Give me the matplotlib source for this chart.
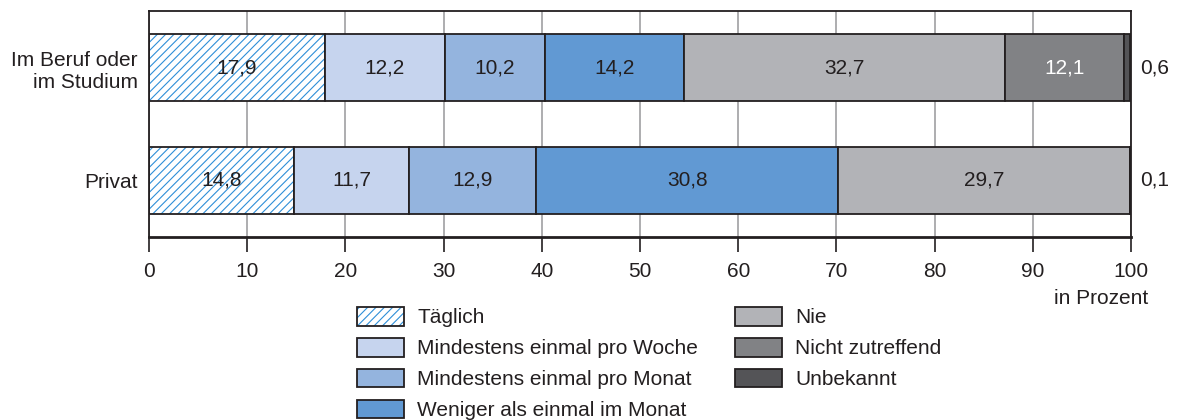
import matplotlib
matplotlib.use("Agg")
import matplotlib.pyplot as plt
from matplotlib.patches import Patch
from matplotlib.legend_handler import HandlerTuple

plt.rcParams['font.family'] = ['Liberation Sans', 'DejaVu Sans']
plt.rcParams['hatch.linewidth'] = 0.8

categories = ["Im Beruf oder\nim Studium", "Privat"]
series = ["Täglich", "Mindestens einmal pro Woche", "Mindestens einmal pro Monat",
          "Weniger als einmal im Monat", "Nie", "Nicht zutreffend", "Unbekannt"]
values = {
    "Täglich": [17.9, 14.8],
    "Mindestens einmal pro Woche": [12.2, 11.7],
    "Mindestens einmal pro Monat": [10.2, 12.9],
    "Weniger als einmal im Monat": [14.2, 30.8],
    "Nie": [32.7, 29.7],
    "Nicht zutreffend": [12.1, 0.0],
    "Unbekannt": [0.6, 0.1],
}
colors = ["white", "#c6d4ee", "#94b4de", "#6199d3", "#b2b3b7", "#818285", "#545457"]
text_colors = ["#231f20", "#231f20", "#231f20", "#231f20", "#231f20", "white", "#231f20"]
hatch_color = "#2f8fd8"
edge = "#231f20"
FS = 15

fig = plt.figure(figsize=(11.8, 4.2), dpi=100)
ax = fig.add_axes([149/1180, 183/420, 982/1180, 226/420])

ypos = list(range(len(categories)))
bar_h = 0.593
left = [0.0] * len(categories)
handles = []
for i, name in enumerate(series):
    vals = values[name]
    if i == 0:
        ax.barh(ypos, vals, left=left, height=bar_h, color="white",
                edgecolor=hatch_color, hatch="////", linewidth=0, zorder=2)
        ax.barh(ypos, vals, left=left, height=bar_h, color="none",
                edgecolor=edge, linewidth=1.3, zorder=3)
        h = (Patch(facecolor="white", edgecolor=hatch_color, hatch="////", linewidth=0),
             Patch(facecolor="none", edgecolor=edge, linewidth=1.3))
    else:
        ax.barh(ypos, vals, left=left, height=bar_h, color=colors[i],
                edgecolor=edge, linewidth=1.3, zorder=3)
        h = Patch(facecolor=colors[i], edgecolor=edge, linewidth=1.3)
    handles.append(h)
    for j, v in enumerate(vals):
        if name == "Unbekannt":
            ax.text(100.9, ypos[j], f"{v:.1f}".replace(".", ","), ha="left",
                    va="center", fontsize=FS, color="#231f20")
        elif v >= 5:
            ax.text(left[j] + v / 2, ypos[j], f"{v:.1f}".replace(".", ","),
                    ha="center", va="center", fontsize=FS, color=text_colors[i], zorder=4)
    left = [l + v for l, v in zip(left, vals)]

ax.set_xlim(0, 100)
ax.set_ylim(1.5, -0.5)
ax.set_xticks(range(0, 101, 10))
ax.set_yticks(ypos)
ax.set_yticklabels(categories, fontsize=FS, color="#231f20")
ax.tick_params(axis="y", length=0, pad=8)
ax.tick_params(axis="x", length=11, width=1.2, color="#231f20", labelsize=FS,
               labelcolor="#231f20", pad=7, direction="out")
ax.xaxis.grid(True, color="#a7a7a9", linewidth=1.3, zorder=0)
ax.set_axisbelow(True)
for s in ["top", "right", "left"]:
    ax.spines[s].set_color("#231f20")
    ax.spines[s].set_linewidth(1.3)
ax.spines["bottom"].set_color("#231f20")
ax.spines["bottom"].set_linewidth(2)

fig.text(1148/1180, 1 - 298/420, "in Prozent", ha="right", va="center",
         fontsize=FS, color="#231f20")

fig.legend(handles, series, ncol=2, loc="upper left",
           bbox_to_anchor=(357/1180, 1 - 307/420), frameon=False, fontsize=FS,
           handlelength=2.26, handleheight=1.0, handletextpad=0.62,
           labelspacing=0.5, columnspacing=1.8, borderpad=0, borderaxespad=0,
           labelcolor="#231f20",
           handler_map={tuple: HandlerTuple(ndivide=1, pad=0)})

fig.savefig("out.png", dpi=100)
